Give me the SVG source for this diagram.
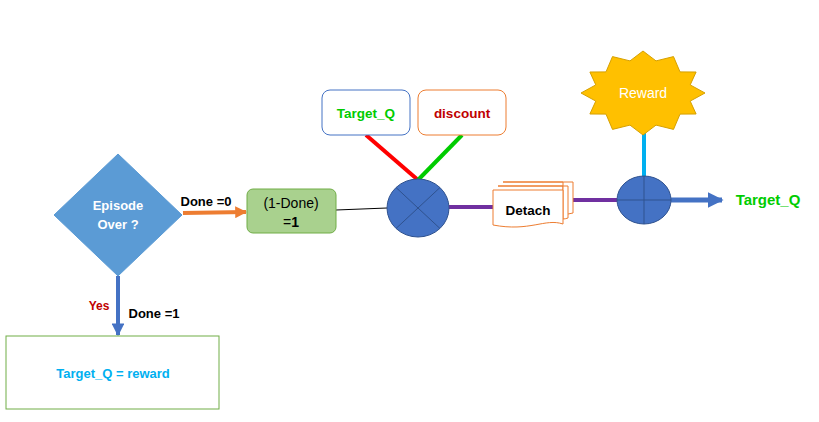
<svg xmlns="http://www.w3.org/2000/svg" width="819" height="422" viewBox="0 0 819 422">
<defs>
<style>
text{font-family:"Liberation Sans",Arial,sans-serif;font-size:13px;text-anchor:middle}
.b{font-weight:bold}
.doc{fill:#fff;stroke:#ed7d31;stroke-width:1}
</style>
<marker id="ao" viewBox="0 0 10 10" refX="9" refY="5" markerWidth="3" markerHeight="3" orient="auto" markerUnits="strokeWidth"><path d="M0,0L10,5L0,10z" fill="#ed7d31"/></marker>
<marker id="ab" viewBox="0 0 10 10" refX="9" refY="5" markerWidth="3.2" markerHeight="3.2" orient="auto" markerUnits="strokeWidth"><path d="M0,0L10,5L0,10z" fill="#4472c4"/></marker>
</defs>
<rect width="819" height="422" fill="#fff"/>
<g id="connectors">
<line x1="183" y1="213" x2="246" y2="212" stroke="#ed7d31" stroke-width="4" marker-end="url(#ao)"/>
<line x1="118" y1="276" x2="118" y2="335" stroke="#4472c4" stroke-width="4" marker-end="url(#ab)"/>
<line x1="336" y1="210" x2="387" y2="208" stroke="#000" stroke-width="1"/>
<line x1="366" y1="135" x2="418" y2="180" stroke="#ff0000" stroke-width="4"/>
<line x1="462" y1="135" x2="418" y2="180" stroke="#00cc00" stroke-width="4"/>
<line x1="449" y1="207" x2="494" y2="207" stroke="#7030a0" stroke-width="4"/>
<line x1="563" y1="200" x2="617" y2="200" stroke="#7030a0" stroke-width="4"/>
<line x1="644" y1="133" x2="644" y2="177" stroke="#00b0f0" stroke-width="4"/>
<line x1="671" y1="200" x2="722" y2="200" stroke="#4472c4" stroke-width="5" marker-end="url(#ab)"/>
<text x="206" y="206" class="b">Done =0</text>
<text x="99" y="310" class="b" style="font-size:12px;fill:#c00000">Yes</text>
<text x="154" y="318" class="b">Done =1</text>
</g>
<g id="episode">
<polygon points="118,154 182,215 118,276 54,215" fill="#5b9bd5" stroke="#5b9bd5"/>
<text x="118" y="210" class="b" fill="#fff">Episode</text>
<text x="118" y="229" class="b" fill="#fff">Over ?</text>
</g>
<g id="one-minus-done">
<rect x="247" y="189" width="89" height="44" rx="6" fill="#a9d18e" stroke="#70ad47"/>
<text x="291" y="208" style="font-size:14px">(1-Done)</text>
<text x="291" y="227" style="font-size:14px">=<tspan class="b">1</tspan></text>
</g>
<g id="target-box">
<rect x="6" y="336" width="213" height="73" fill="#fff" stroke="#70ad47"/>
<text x="113" y="378" class="b" fill="#00b0f0">Target_Q = reward</text>
</g>
<g id="target-q-top">
<rect x="322" y="90" width="88" height="45" rx="8" fill="#fff" stroke="#4472c4"/>
<text x="366" y="118" class="b" fill="#00cc00" style="font-size:13.5px">Target_Q</text>
</g>
<g id="discount">
<rect x="418" y="90" width="88" height="45" rx="8" fill="#fff" stroke="#ed7d31"/>
<text x="462" y="118" class="b" fill="#c00000" style="font-size:13.5px">discount</text>
</g>
<g id="multiply">
<ellipse cx="418" cy="208" rx="31" ry="29" fill="#4472c4" stroke="#2f528f"/>
<line x1="396" y1="187.5" x2="440" y2="228.5" stroke="#2f528f"/>
<line x1="440" y1="187.5" x2="396" y2="228.5" stroke="#2f528f"/>
</g>
<g id="detach">
<path class="doc" d="M503,182H573V213Q568,214 563,215V182H503Z"/>
<path class="doc" d="M498,186H568V218Q565,219 563,219V186H498Z"/>
<path class="doc" d="M493,190H563V224C545,218 530,232 493,225Z"/>
<text x="528" y="215" class="b" style="font-size:13.5px">Detach</text>
</g>
<g id="plus">
<ellipse cx="644" cy="200" rx="27" ry="24" fill="#4472c4" stroke="#2f528f"/>
<line x1="617" y1="200" x2="671" y2="200" stroke="#2f528f"/>
<line x1="644" y1="176" x2="644" y2="224" stroke="#2f528f"/>
</g>
<g id="reward">
<polygon points="705,93 690.2,101.1 696.1,114 680.0,114.1 673.5,129.4 656.0,125.1 643,135 630.0,125.1 612.5,129.4 606.0,114.1 589.9,114 595.8,101.1 581,93 595.8,84.9 589.9,72 606.0,71.9 612.5,56.6 630.0,60.9 643,51 656.0,60.9 673.5,56.6 680.0,71.9 696.1,72 690.2,84.9" fill="#ffc000" stroke="#d6a000"/>
<text x="643" y="98" fill="#fff" style="font-size:14px">Reward</text>
</g>
<g id="target-q-out">
<text x="768" y="205" class="b" fill="#00cc00" style="font-size:15px">Target_Q</text>
</g>
</svg>
